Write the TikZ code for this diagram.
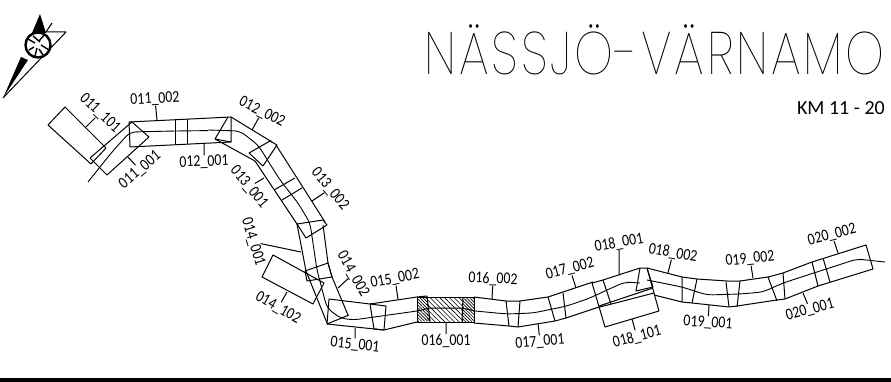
\documentclass[tikz,border=0pt]{standalone}
\usepackage{fontspec}
\setmainfont{Carlito}
\newfontfamily\titlefont[UprightFont=* Thin,LetterSpace=6]{Poppins}
\usetikzlibrary{patterns.meta}
\newcommand{\roadtag}[1]{\scalebox{0.84}[1]{#1}}

\begin{document}
\begin{tikzpicture}[x=1pt,y=-1pt,
    road/.style={line width=1pt, line join=round},
    axis/.style={line width=0.9pt},
    leader/.style={line width=1pt},
    tag/.style={font=\fontsize{16.5}{17}\selectfont, inner sep=0pt}]
    \useasboundingbox (0,0) rectangle (891,382);

    % North arrow
    \fill (40,14) -- (32,33) -- (46,33) -- cycle;
    \fill (3,98) -- (21,57) -- (28,60) -- cycle;
    \draw[road] (3,98) -- (66,32) -- (46,32);
    \draw[road] (46,32) -- (52,23);
    \draw[line width=2.4pt, fill=white] (38,45) circle (12.5);
    \draw[line width=1.4pt] (39,41) -- (45,34) (41,45) -- (49,50) (37,48) -- (35,56)
        (35,43) -- (28,39) (34,47) -- (29,50) (39,49) -- (43,55) (40,42) -- (33,36);

    % Sections 011 and 012
    \draw[road] (48,125) -- (65,107) -- (106,148) -- (91,164) -- cycle;
    \draw[road] (90,158) -- (107,175) -- (149,137) -- (132,122) -- cycle;
    \draw[road] (129,122) -- (231,117) -- (231,142) -- (130,147) -- cycle;
    \draw[road] (175.5,119) -- (175.5,144) (187.5,119) -- (187.5,144);
    \draw[road] (228,117) -- (215,139) -- (231,142);

    % Sections 012 and 013
    \draw[road] (231,117) -- (272,142) (215,139) -- (255,161);
    \draw[road] (249,153) -- (270,141) -- (277,145) -- (263,166) -- cycle;
    \draw[road] (276,145) -- (325,222) (255,161) -- (297,224);
    \draw[road] (274,190) -- (295,178) (282,200) -- (302,188);
    \draw[road] (297,224) -- (323,220) -- (327,225) -- (306,238) -- cycle;

    % Sections 014 and 015
    \draw[road] (297,224) -- (306,271) -- (327,323);
    \draw[road] (323,225) -- (328,263) -- (332,277) -- (348,315);
    \draw[road] (305,271) -- (328,263) -- (332,277) -- (307,281) -- cycle;
    \draw[road] (273,255) -- (262,277) -- (313,304) -- (324,283) -- cycle;
    \draw[road] (329,299) -- (327,324) -- (349,315) (329,299) -- (370,304);
    \draw[road] (327,324) -- (384,330) -- (417,322);
    \draw[road] (370,304) -- (386,306) -- (384,330) -- (374,329) -- cycle;
    \draw[road] (370,304) -- (417,297) -- (427,296);

    % Section 016, hatched
    \fill[pattern={Lines[angle=-45,distance=3.4pt,line width=0.6pt]}] (427,297) rectangle (463,322);
    \fill[pattern={Lines[angle=-45,distance=2.2pt,line width=0.7pt]}] (417,297) -- (427,297) -- (430,321) -- (417,322) -- cycle;
    \fill[pattern={Lines[angle=-45,distance=2.2pt,line width=0.7pt]}] (463,297) -- (474,297) -- (474,323) -- (462,322) -- cycle;
    \draw[road] (417,297) rectangle (474,322.5);
    \draw[road] (427,296) -- (430,321) (463,297) -- (462,322);
    \draw[road] (417,311) -- (430,308) -- (462,308) -- (475,311);

    % Sections 016 to 018
    \draw[road] (474,297) -- (506,301) -- (520,301) -- (548,297) -- (593,282);
    \draw[road] (474,323) -- (509,326) -- (518,327) -- (555,321) -- (566,318) -- (599,307);
    \draw[road] (506,301) -- (509,326) (520,301) -- (518,327);
    \draw[road] (548,297) -- (555,321) (563,293) -- (566,318);
    \draw[road] (592,283) -- (603,280) -- (611,304) (592,283) -- (605,327) -- (659,311) -- (647,268);
    \draw[road] (603,280) -- (640,268) -- (647,268) -- (653,287) -- (636,291) -- (640,268);
    \draw[road] (599,306) -- (653,288) (600,307) -- (654,293);

    % Sections 018 to 020
    \draw[road] (647,268) -- (682,277) -- (697,279) -- (727,281) -- (740,281) -- (768,277) -- (783,273);
    \draw[road] (654,295) -- (682,302) -- (692,303) -- (729,307) -- (737,306) -- (777,300) -- (785,299);
    \draw[road] (682,277) -- (682,302) (697,279) -- (692,303);
    \draw[road] (726,282) -- (729,307) (740,281) -- (737,307);
    \draw[road] (768,277) -- (777,301) (783,273) -- (785,299);
    \draw[road] (783,273) -- (812,262) -- (866,245) -- (873,269) -- (818,286) -- (785,299);
    \draw[road] (812,262) -- (818,286) (823,258) -- (830,282);

    % Centre line
    \draw[axis, rounded corners=6pt] (88,182) -- (112,152) -- (130,132) -- (175,131) -- (208,130.6);
    \draw[axis, rounded corners=6pt] (208,130) -- (240,131) -- (258,145) -- (280,180) -- (298,203) -- (310,223) -- (317,270) -- (327,308) -- (340,318) -- (353,320) -- (417,311);
    \draw[axis, rounded corners=6pt] (475,311) -- (507,314) -- (533,313) -- (567,306) -- (590,298) -- (607,290) -- (625,282) -- (640,283);
    \draw[axis, rounded corners=6pt] (647,280) -- (682,287) -- (707,295) -- (740,294) -- (763,292) -- (783,283) -- (857,259) -- (885,262);

    % Labels
    \node[tag, rotate=-43] (t011c) at (100,113) {\roadtag{011\_101}};
    \node[tag, rotate=3] (t011b) at (155,99) {\roadtag{011\_002}};
    \node[tag, rotate=40] (t011a) at (140,170) {\roadtag{011\_001}};
    \node[tag, rotate=2] (t012a) at (204,162) {\roadtag{012\_001}};
    \node[tag, rotate=-27] (t012b) at (262,112) {\roadtag{012\_002}};
    \node[tag, rotate=-50] (t013a) at (249,187) {\roadtag{013\_001}};
    \node[tag, rotate=-50] (t013b) at (330,189) {\roadtag{013\_002}};
    \node[tag, rotate=-73] (t014a) at (253,242) {\roadtag{014\_001}};
    \node[tag, rotate=-60] (t014b) at (353,274) {\roadtag{014\_002}};
    \node[tag, rotate=-30] (t014c) at (278,308) {\roadtag{014\_102}};
    \node[tag, rotate=-6] (t015a) at (355,345) {\roadtag{015\_001}};
    \node[tag, rotate=11] (t015b) at (395,279) {\roadtag{015\_002}};
    \node[tag, rotate=1] (t016a) at (446,341) {\roadtag{016\_001}};
    \node[tag, rotate=-2] (t016b) at (493,279) {\roadtag{016\_002}};
    \node[tag, rotate=5] (t017a) at (540,342) {\roadtag{017\_001}};
    \node[tag, rotate=15] (t017b) at (570,269) {\roadtag{017\_002}};
    \node[tag, rotate=10] (t018a) at (619,243) {\roadtag{018\_001}};
    \node[tag, rotate=-10] (t018b) at (673,253) {\roadtag{018\_002}};
    \node[tag, rotate=15] (t018c) at (637,337) {\roadtag{018\_101}};
    \node[tag, rotate=-4] (t019a) at (708,323) {\roadtag{019\_001}};
    \node[tag, rotate=6] (t019b) at (750,259) {\roadtag{019\_002}};
    \node[tag, rotate=15] (t020a) at (810,310) {\roadtag{020\_001}};
    \node[tag, rotate=14] (t020b) at (832,235) {\roadtag{020\_002}};

    % Leader lines
    \foreach \tagname/\px/\py in {t011c/86/127, t011b/157/120, t011a/128/157, t012a/204/144,
        t012b/252/130, t013a/264/178, t013b/312/201, t014a/301/252, t014b/338/288,
        t014c/287/292, t015a/355/328, t015b/398/299, t016a/446/323, t016b/492/299,
        t017a/538/323, t017b/576/288, t018a/619/275, t018b/668/273, t018c/632/319,
        t019a/709/305, t019b/753/278, t020a/803/293, t020b/838/253}
        \draw[leader] (\tagname) -- (\px,\py);

    % Heading
    \node[anchor=base east, inner sep=0pt, font=\titlefont\fontsize{60}{60}\selectfont] (title) at (885,75) {\scalebox{0.82}[1]{NÄSSJÖ-VÄRNAMO}};
    \node[anchor=base east, inner sep=0pt, font=\fontsize{20}{20}\selectfont] (km) at (885,115) {KM 11 - 20};

    % Bottom rule
    \fill (0,378) rectangle (891,382);
\end{tikzpicture}
\end{document}
